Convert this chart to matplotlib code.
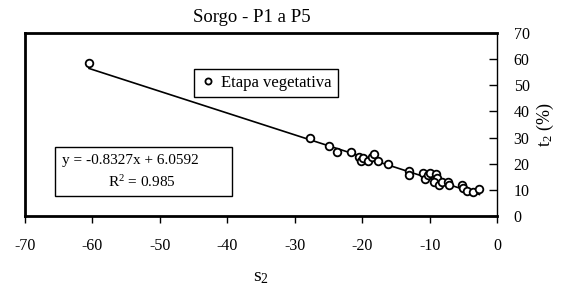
import matplotlib

matplotlib.use("Agg")
import matplotlib.pyplot as plt
from matplotlib.patches import Rectangle

plt.rcParams["font.family"] = "Liberation Serif"
plt.rcParams["mathtext.fontset"] = "custom"
plt.rcParams["mathtext.rm"] = "Liberation Serif"
plt.rcParams["mathtext.it"] = "Liberation Serif:italic"
plt.rcParams["axes.unicode_minus"] = False

# data
s2 = [-60.5, -27.8, -24.9, -23.7, -21.7, -20.5, -20.2, -19.8, -19.1, -18.6,
      -18.2, -17.6, -16.1, -13.0, -13.1, -11.0, -10.7, -10.2, -9.9, -9.05,
      -8.95, -9.3, -8.6, -8.2, -7.2, -7.1, -5.25, -5.1, -4.5, -3.6, -2.6]
t2 = [58.5, 29.7, 26.8, 24.4, 24.4, 22.7, 20.9, 22.0, 21.0, 22.4,
      23.8, 21.2, 19.9, 17.2, 15.7, 16.3, 14.0, 15.8, 16.3, 16.1,
      14.4, 13.1, 11.9, 13.1, 13.1, 11.7, 11.9, 10.6, 9.6, 9.3, 10.3]
slope, intercept, r2 = -0.8327, 6.0592, 0.985

x_ticks = [-70, -60, -50, -40, -30, -20, -10, 0]
y_ticks = [0, 10, 20, 30, 40, 50, 60, 70]

fig = plt.figure(figsize=(5.65, 2.98), dpi=100)
ax = fig.add_axes([25 / 565, 82 / 298, 472 / 565, 183 / 298])

ax.plot(s2, t2, "o", mfc="white", mec="black", mew=1.3, ms=5.5,
        zorder=3, label="Etapa vegetativa")
x_fit = [min(s2), max(s2)]
ax.plot(x_fit, [slope * x + intercept for x in x_fit], color="black", lw=1.2, zorder=2)

ax.set_xlim(-70, 0)
ax.set_ylim(0, 70)
ax.set_xticks(x_ticks)
ax.set_yticks(y_ticks)
ax.yaxis.tick_right()
ax.yaxis.set_label_position("right")
ax.tick_params(axis="x", direction="out", length=5, width=1, pad=11, labelsize=11.5)
ax.tick_params(axis="y", direction="in", length=6, width=1, pad=12, labelsize=11.5)
for side in ["top", "left", "bottom"]:
    ax.spines[side].set_linewidth(2)
ax.spines["right"].set_linewidth(1)

ax.set_xlabel("s$_2$", fontsize=14, labelpad=11)
ax.set_ylabel("t$_2$ (%)", fontsize=13, labelpad=4)
ax.set_title("Sorgo - P1 a P5", fontsize=13.5, pad=8, x=0.481)

leg = ax.legend(loc="upper left", bbox_to_anchor=(0.34, 0.847), fontsize=12,
                fancybox=False, framealpha=1, edgecolor="black", handletextpad=0.3,
                handlelength=1.0, borderpad=0.35, markerscale=0.8)
leg.get_frame().set_linewidth(1)

ax.add_patch(Rectangle((0.0636, 0.109), 0.375, 0.268, transform=ax.transAxes,
                       fill=False, edgecolor="black", lw=1, zorder=4))
ax.text(0.078, 0.306, f"y = {slope}x + {intercept}", transform=ax.transAxes,
        fontsize=11, va="center", ha="left")
ax.text(0.176, 0.186, f"R$^2$ = {r2}", transform=ax.transAxes,
        fontsize=11, va="center", ha="left")

fig.savefig("out.png", dpi=100, facecolor="white")
